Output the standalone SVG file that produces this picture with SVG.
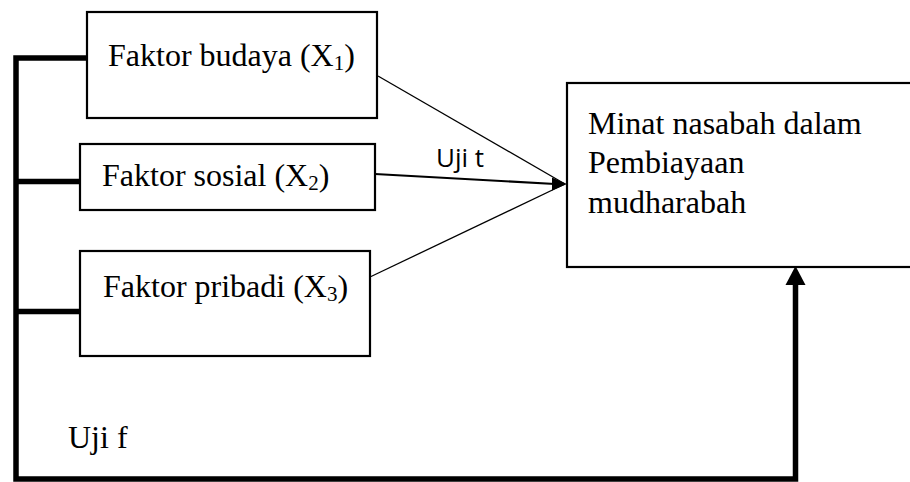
<svg xmlns="http://www.w3.org/2000/svg" width="910" height="482" viewBox="0 0 910 482">
<style>
.box{fill:#fff;stroke:#000;stroke-width:2.2}
.serif{font-family:"Liberation Serif","Times New Roman",serif;font-size:32px;fill:#000}
.sub{font-size:21px}
.thick{fill:none;stroke:#000;stroke-width:5.5;stroke-linecap:butt;stroke-linejoin:miter}
.thin{fill:none;stroke:#000;stroke-width:1.3}
.sans{font-family:"Open Sans","DejaVu Sans",sans-serif;font-size:26px;fill:#000}
</style>
<rect width="910" height="482" fill="#fff"/>
<g id="connectors">
  <path class="thick" d="M87,58 H16 V479 H795.5 V282"/>
  <path class="thick" d="M16,181.5 H84"/>
  <path class="thick" d="M16,311.5 H80"/>
  <polygon points="795.5,266 785.5,285 805.5,285" fill="#000"/>
  <line class="thin" x1="378" y1="76" x2="565" y2="184"/>
  <line class="thin" x1="370" y1="277" x2="565" y2="184"/>
  <line x1="375" y1="174" x2="555" y2="184" stroke="#000" stroke-width="2.2"/>
  <polygon points="567,184 552,177.5 552,190.5" fill="#000"/>
  <text class="sans" x="436" y="167">Uji t</text>
  <text class="serif" x="68" y="448">Uji f</text>
</g>
<g id="x1">
  <rect class="box" x="87" y="12" width="290" height="106"/>
  <text class="serif" x="108" y="66">Faktor budaya (X<tspan class="sub" dy="4">1</tspan><tspan dy="-4">)</tspan></text>
</g>
<g id="x2">
  <rect class="box" x="80" y="144" width="295" height="66"/>
  <text class="serif" x="102" y="186">Faktor sosial (X<tspan class="sub" dy="4">2</tspan><tspan dy="-4">)</tspan></text>
</g>
<g id="x3">
  <rect class="box" x="80" y="251" width="290" height="105"/>
  <text class="serif" x="103" y="297">Faktor pribadi (X<tspan class="sub" dy="4">3</tspan><tspan dy="-4">)</tspan></text>
</g>
<g id="y">
  <rect class="box" x="567" y="83" width="350" height="184"/>
  <text class="serif" x="588" y="134">Minat nasabah dalam</text>
  <text class="serif" x="588" y="173">Pembiayaan</text>
  <text class="serif" x="588" y="213">mudharabah</text>
</g>
</svg>
